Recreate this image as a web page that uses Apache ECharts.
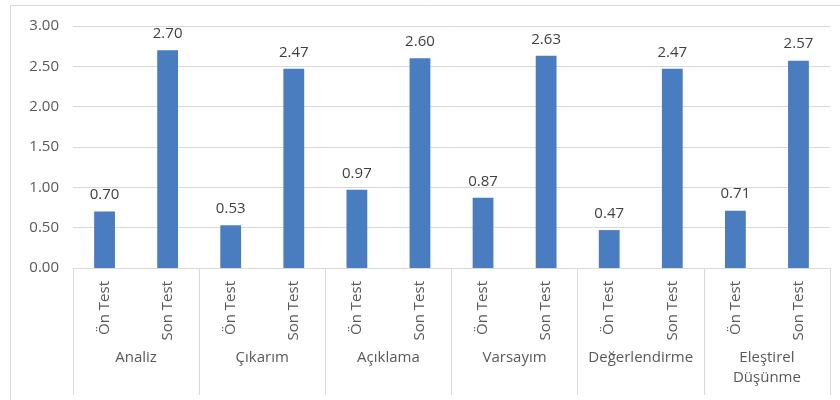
<!DOCTYPE html>
<html>
<head>
<meta charset="utf-8">
<script src="https://cdn.jsdelivr.net/npm/echarts@6/dist/echarts.min.js"></script>
<style>
html, body { margin: 0; padding: 0; background: #fff; }
#chart { width: 840px; height: 400px; }
</style>
</head>
<body>
<div id="chart"></div>
<script>
    // inner categories (test type) and outer groups (skill)
    const tests = ['Ön Test', 'Son Test'];
    const groups = ['Analiz', 'Çıkarım', 'Açıklama', 'Varsayım', 'Değerlendirme', 'Eleştirel\nDüşünme'];
    const scores = [0.70, 2.70, 0.53, 2.47, 0.97, 2.60, 0.87, 2.63, 0.47, 2.47, 0.71, 2.57];

    const innerLabels = [];
    groups.forEach(() => tests.forEach(t => innerLabels.push(t)));

    const textColor = '#595959';
    const fontFamily = '"Open Sans", "DejaVu Sans", sans-serif';

    const chart = echarts.init(document.getElementById('chart'));
    const option = {
        animation: false,
        textStyle: { fontFamily: fontFamily },
        graphic: [{
            type: 'rect',
            shape: { x: 10.5, y: 5.5, width: 840, height: 400 },
            style: { fill: 'none', stroke: '#d9d9d9', lineWidth: 1 }
        }],
        grid: {
            left: 73,
            right: 10,
            top: 26,
            bottom: 132
        },
        xAxis: [
            {
                type: 'category',
                data: innerLabels,
                axisLine: { lineStyle: { color: '#d9d9d9' } },
                axisTick: { show: false },
                axisLabel: {
                    rotate: 90,
                    interval: 0,
                    margin: 13,
                    color: textColor,
                    fontSize: 15,
                    fontFamily: fontFamily
                }
            },
            {
                type: 'category',
                data: groups,
                position: 'bottom',
                axisLine: { show: false },
                axisTick: {
                    show: true,
                    length: 127,
                    lineStyle: { color: '#d9d9d9' }
                },
                axisLabel: {
                    interval: 0,
                    margin: 80,
                    color: textColor,
                    fontSize: 15,
                    lineHeight: 20,
                    verticalAlign: 'top',
                    fontFamily: fontFamily
                }
            }
        ],
        yAxis: {
            type: 'value',
            min: 0,
            max: 3,
            interval: 0.5,
            axisLine: { show: false },
            axisTick: { show: false },
            splitLine: { lineStyle: { color: '#d9d9d9' } },
            axisLabel: {
                margin: 14,
                color: textColor,
                fontSize: 15,
                formatter: v => v.toFixed(2)
            }
        },
        series: [{
            type: 'bar',
            data: scores,
            xAxisIndex: 0,
            barWidth: '33%',
            itemStyle: { color: '#4a7cc0' },
            label: {
                show: true,
                position: 'top',
                distance: 9,
                color: '#404040',
                fontSize: 15,
                formatter: p => p.value.toFixed(2)
            }
        }]
    };
    chart.setOption(option);
</script>
</body>
</html>
